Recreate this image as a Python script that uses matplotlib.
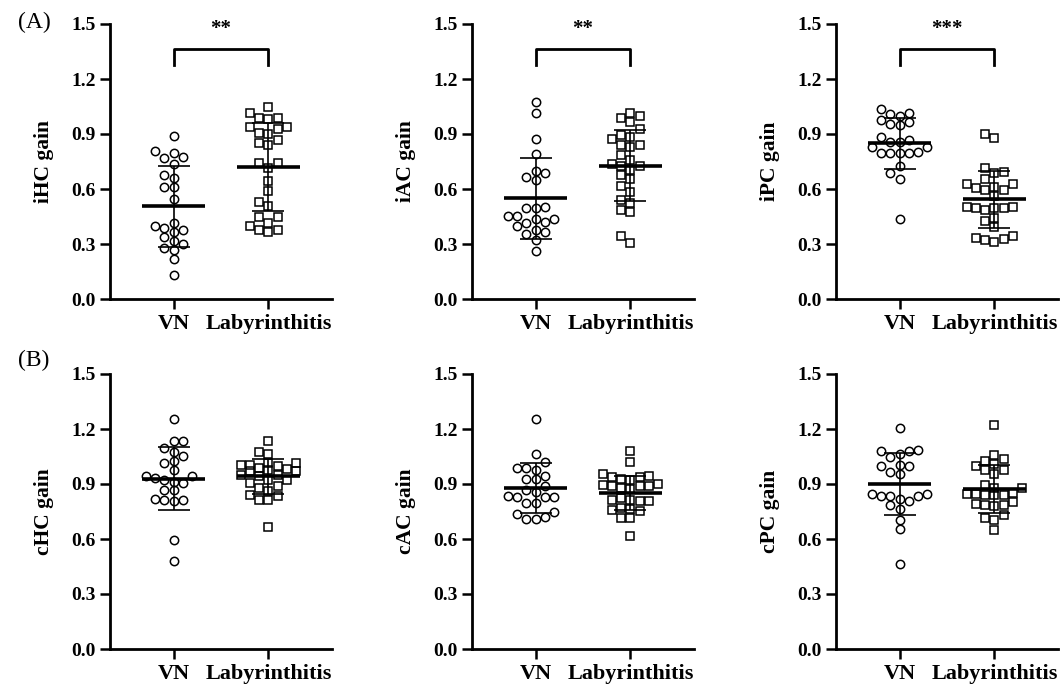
"""Canal gains per groep (VN vs labyrinthitis): scatter met gemiddelde en SD."""

import matplotlib
matplotlib.use("Agg")
import matplotlib.pyplot as plt
import numpy as np

plt.rcParams["font.family"] = ["Liberation Serif", "DejaVu Serif"]
plt.rcParams["font.weight"] = "bold"

GROUPS = ["VN", "Labyrinthitis"]

# ---------------------------------------------------------------------------
# (A) ipsilaterale gains
# ---------------------------------------------------------------------------
ihc_vn = [0.889, 0.807, 0.798, 0.767, 0.776, 0.736, 0.658, 0.676, 0.609, 0.609,
          0.547, 0.398, 0.416, 0.367, 0.376, 0.389, 0.340, 0.280, 0.316, 0.267,
          0.298, 0.218, 0.129]
ihc_lab = [1.049, 1.016, 0.989, 0.980, 0.989, 0.937, 0.926, 0.937, 0.907, 0.898,
           0.867, 0.840, 0.849, 0.740, 0.716, 0.740, 0.645, 0.591, 0.527, 0.509,
           0.449, 0.449, 0.416, 0.398, 0.376, 0.376, 0.367]
iac_vn = [1.077, 1.016, 0.873, 0.789, 0.686, 0.698, 0.649, 0.664, 0.495, 0.504,
          0.495, 0.436, 0.455, 0.436, 0.455, 0.422, 0.398, 0.413, 0.376, 0.355,
          0.364, 0.322, 0.264]
iac_lab = [0.998, 1.016, 0.964, 0.989, 0.926, 0.886, 0.840, 0.873, 0.827, 0.895,
           0.840, 0.786, 0.736, 0.758, 0.704, 0.726, 0.676, 0.726, 0.655, 0.616,
           0.582, 0.540, 0.522, 0.473, 0.486, 0.345, 0.304]
ipc_vn = [1.037, 1.016, 0.998, 1.008, 0.977, 0.967, 0.949, 0.955, 0.886, 0.858,
          0.858, 0.867, 0.798, 0.798, 0.827, 0.798, 0.798, 0.804, 0.827, 0.726,
          0.686, 0.655, 0.436]
ipc_lab = [0.898, 0.876, 0.716, 0.695, 0.686, 0.655, 0.626, 0.613, 0.626, 0.604,
           0.595, 0.595, 0.562, 0.495, 0.495, 0.504, 0.486, 0.504, 0.495, 0.444,
           0.426, 0.395, 0.322, 0.326, 0.344, 0.313, 0.333]

# ---------------------------------------------------------------------------
# (B) contralaterale gains
# ---------------------------------------------------------------------------
chc_vn = [1.256, 1.133, 1.133, 1.095, 1.055, 1.075, 1.024, 1.015, 0.975, 0.933,
          0.906, 0.922, 0.946, 0.913, 0.942, 0.865, 0.865, 0.815, 0.818, 0.805,
          0.815, 0.593, 0.482]
chc_lab = [1.133, 1.073, 1.065, 0.996, 1.005, 1.015, 1.005, 1.015, 0.982, 0.974,
           0.969, 0.987, 0.951, 0.942, 0.969, 0.924, 0.924, 0.906, 0.887, 0.878,
           0.860, 0.833, 0.842, 0.815, 0.811, 0.950, 0.663]
cac_vn = [1.256, 1.065, 1.018, 0.987, 0.978, 0.987, 0.946, 0.927, 0.927, 0.887,
          0.869, 0.836, 0.854, 0.829, 0.829, 0.829, 0.796, 0.796, 0.747, 0.738,
          0.709, 0.720, 0.709]
cac_lab = [1.078, 1.018, 0.887, 0.927, 0.955, 0.946, 0.920, 0.938, 0.938, 0.878,
           0.902, 0.896, 0.873, 0.887, 0.887, 0.805, 0.815, 0.805, 0.824, 0.815,
           0.760, 0.764, 0.769, 0.751, 0.715, 0.715, 0.614]
cpc_vn = [1.206, 1.078, 1.078, 1.087, 1.047, 1.065, 0.996, 0.996, 1.005, 0.956,
          0.965, 0.836, 0.836, 0.845, 0.818, 0.809, 0.836, 0.845, 0.783, 0.765,
          0.705, 0.656, 0.465]
cpc_lab = [1.224, 1.060, 1.038, 1.027, 0.996, 0.978, 1.009, 0.978, 0.955, 0.878,
           0.896, 0.878, 0.838, 0.845, 0.842, 0.842, 0.851, 0.845, 0.778, 0.783,
           0.791, 0.787, 0.802, 0.715, 0.705, 0.733, 0.651]

# Gemiddelde en SD zoals in de figuur aangegeven ([VN, Labyrinthitis]).
ihc_mean, ihc_sd = [0.506, 0.720], [0.222, 0.238]
iac_mean, iac_sd = [0.549, 0.726], [0.220, 0.194]
ipc_mean, ipc_sd = [0.849, 0.544], [0.140, 0.156]
chc_mean, chc_sd = [0.929, 0.942], [0.172, 0.097]
cac_mean, cac_sd = [0.878, 0.853], [0.135, 0.093]
cpc_mean, cpc_sd = [0.900, 0.873], [0.170, 0.131]

# Significantie tussen de groepen (alleen rij A).
stars_a = ["**", "**", "***"]

PANELS = [
    ("iHC gain", ihc_vn, ihc_lab, ihc_mean, ihc_sd),
    ("iAC gain", iac_vn, iac_lab, iac_mean, iac_sd),
    ("iPC gain", ipc_vn, ipc_lab, ipc_mean, ipc_sd),
    ("cHC gain", chc_vn, chc_lab, chc_mean, chc_sd),
    ("cAC gain", cac_vn, cac_lab, cac_mean, cac_sd),
    ("cPC gain", cpc_vn, cpc_lab, cpc_mean, cpc_sd),
]


def swarm_x(ax, x0, values, diam=8.6, step=9.25, max_off=28.0):
    """Greedy beeswarm in pixelruimte; valt terug op minste overlap."""
    values = np.asarray(values, dtype=float)
    pts = ax.transData.transform(np.column_stack([np.full(len(values), x0), values]))
    cands = [0.0]
    k = 1
    while k * step <= max_off + 0.1:
        cands += [-k * step, k * step]
        k += 1
    placed = []
    xs_px = np.zeros(len(values))
    for i in np.argsort(values):
        px, py = pts[i]
        best, best_d = 0.0, -1.0
        for off in cands:
            if placed:
                p = np.array(placed)
                d = np.min(np.hypot(p[:, 0] - (px + off), p[:, 1] - py))
            else:
                d = np.inf
            if d >= diam:
                best = off
                break
            if d > best_d:
                best, best_d = off, d
        placed.append((px + best, py))
        xs_px[i] = px + best
    back = ax.transData.inverted().transform(np.column_stack([xs_px, pts[:, 1]]))
    return back[:, 0]


W, H = 1060, 686
fig = plt.figure(figsize=(W / 100, H / 100), dpi=100)

lefts = [110, 472, 836]
bottoms = [299, 649]

for k, (ylabel, vn, lab, mean, sd) in enumerate(PANELS):
    r, c = divmod(k, 3)
    ax = fig.add_axes([lefts[c] / W, 1 - bottoms[r] / H, 222 / W, 275 / H])
    ax.set_xlim(-0.67, 1.67)
    ax.set_ylim(0, 1.5)

    for x, vals, marker in [(0, vn, "o"), (1, lab, "s")]:
        ax.plot(swarm_x(ax, x, vals), vals, linestyle="none", marker=marker,
                ms=6, mfc="none", mec="black", mew=1.1, zorder=2)

    xs = np.arange(len(GROUPS))
    ax.errorbar(xs, mean, yerr=sd, fmt="none", ecolor="black", elinewidth=1.2,
                capsize=11.5, capthick=1.2, zorder=3)
    ax.hlines(mean, xs - 0.33, xs + 0.33, colors="black", lw=2.6, zorder=3)

    ax.set_yticks(np.arange(0, 1.51, 0.3))
    ax.set_yticklabels([f"{t:.1f}" for t in np.arange(0, 1.51, 0.3)])
    ax.set_xticks(xs)
    ax.set_xticklabels(GROUPS)
    for sp in ["top", "right"]:
        ax.spines[sp].set_visible(False)
    for sp in ["left", "bottom"]:
        ax.spines[sp].set_linewidth(2)
    ax.tick_params(axis="both", direction="out", length=7, width=1.8)
    ax.tick_params(axis="y", labelsize=14, pad=3)
    ax.tick_params(axis="x", labelsize=16, pad=4)
    ax.set_ylabel(ylabel, fontsize=15.5, fontweight="bold")
    ax.yaxis.set_label_coords(-0.25, 0.5)

    if r == 0:
        ax.plot([0, 0, 1, 1], [1.277, 1.362, 1.362, 1.277], color="black",
                lw=2, clip_on=False)
        ax.text(0.5, 1.47, stars_a[c], ha="center", va="center", fontsize=15,
                fontweight="bold")

fig.text(18 / W, 1 - 22 / H, "(A)", ha="left", va="center", fontsize=17,
         fontweight="normal")
fig.text(18 / W, 1 - 360 / H, "(B)", ha="left", va="center", fontsize=17,
         fontweight="normal")

fig.savefig("out.png", dpi=100)
